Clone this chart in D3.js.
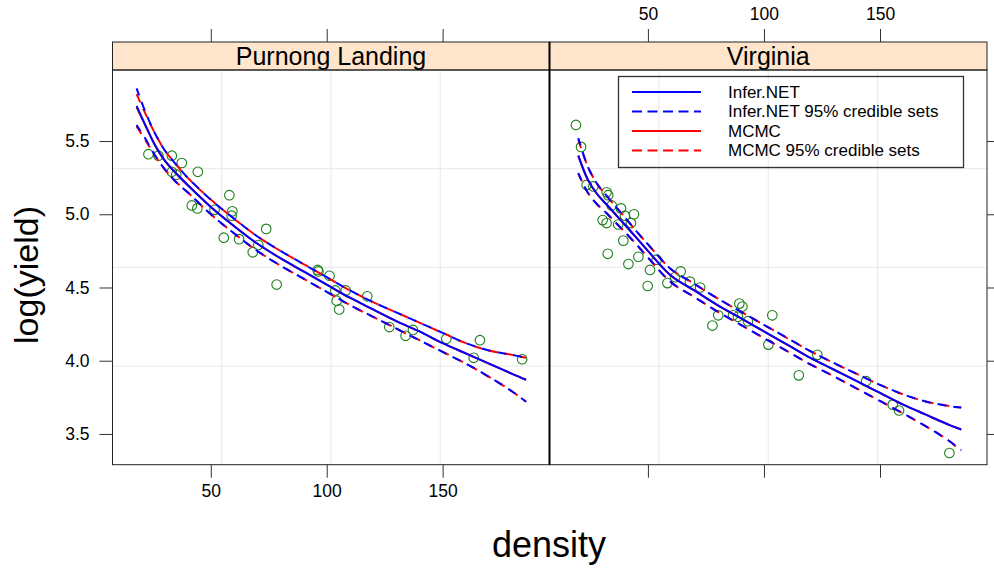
<!DOCTYPE html>
<html>
<head>
<meta charset="utf-8">
<script src="https://cdn.jsdelivr.net/npm/d3@7"></script>
<style>
  body { margin: 0; background: #fff; }
  svg text { font-family: "Liberation Sans", Arial, sans-serif; fill: #000; }
</style>
</head>
<body>
<div id="chart"></div>
<script>
// ---- data ----
var sites = ['Purnong Landing', 'Virginia'];
var xTicks = [50, 100, 150];
var yTicks = [3.5, 4.0, 4.5, 5.0, 5.5];
var legendLabels = ['Infer.NET', 'Infer.NET 95% credible sets', 'MCMC', 'MCMC 95% credible sets'];

var pnDensity = [23.1, 27.4, 33.2, 37.5, 33.2, 35.1, 44.4, 58.0, 41.8, 44.2, 51.6, 59.3, 59.0, 73.9, 55.6, 62.2, 70.5, 68.1, 78.4, 96.1, 96.4, 101.2, 103.7, 108.2, 104.3, 105.4, 117.5, 127.0, 134.0, 137.2, 151.6, 166.1, 163.4, 184.3];
var pnYield = [5.41, 5.40, 5.40, 5.35, 5.29, 5.27, 5.29, 5.13, 5.06, 5.04, 5.03, 5.02, 4.99, 4.90, 4.84, 4.83, 4.79, 4.74, 4.52, 4.62, 4.61, 4.58, 4.48, 4.48, 4.41, 4.35, 4.44, 4.23, 4.17, 4.21, 4.15, 4.14, 4.02, 4.01];

var vaDensity = [19.0, 21.2, 23.6, 26.5, 32.2, 32.9, 34.4, 38.4, 44.0, 40.1, 30.5, 32.2, 42.7, 37.2, 39.4, 45.9, 32.7, 41.6, 50.9, 53.8, 49.9, 58.4, 61.7, 64.1, 68.1, 72.5, 80.3, 77.8, 89.4, 90.7, 86.7, 88.8, 93.1, 103.6, 101.9, 115.0, 123.0, 144.0, 155.5, 158.2, 179.9];
var vaYield = [5.61, 5.46, 5.20, 5.19, 5.15, 5.13, 5.06, 5.04, 5.00, 4.99, 4.96, 4.94, 4.94, 4.93, 4.82, 4.71, 4.73, 4.66, 4.62, 4.69, 4.51, 4.53, 4.57, 4.61, 4.54, 4.50, 4.31, 4.24, 4.39, 4.37, 4.31, 4.30, 4.27, 4.31, 4.11, 3.90, 4.04, 3.86, 3.70, 3.66, 3.37];

// fitted curves (Purnong Landing)
var pnGrid = [18, 22, 26, 30, 35, 40, 50, 60, 70, 80, 90, 100, 110, 120, 130, 140, 150, 160, 170, 180, 186];
var pnInferFit = [5.74, 5.60, 5.47, 5.37, 5.28, 5.20, 5.05, 4.92, 4.80, 4.70, 4.61, 4.52, 4.43, 4.35, 4.27, 4.20, 4.12, 4.05, 3.98, 3.91, 3.87];
var pnInferUpper = [5.86, 5.69, 5.55, 5.44, 5.34, 5.25, 5.10, 4.97, 4.85, 4.75, 4.66, 4.57, 4.48, 4.40, 4.33, 4.26, 4.19, 4.12, 4.07, 4.04, 4.02];
var pnInferLower = [5.61, 5.51, 5.40, 5.31, 5.22, 5.15, 5.00, 4.87, 4.75, 4.65, 4.56, 4.47, 4.38, 4.30, 4.22, 4.14, 4.06, 3.98, 3.89, 3.79, 3.72];
var pnMcmcFit = [5.73, 5.60, 5.47, 5.37, 5.28, 5.20, 5.05, 4.92, 4.80, 4.70, 4.61, 4.52, 4.43, 4.35, 4.27, 4.20, 4.12, 4.05, 3.98, 3.91, 3.87];
var pnMcmcUpper = [5.82, 5.68, 5.55, 5.44, 5.34, 5.25, 5.10, 4.97, 4.85, 4.75, 4.66, 4.57, 4.48, 4.40, 4.33, 4.26, 4.19, 4.12, 4.07, 4.04, 4.02];
var pnMcmcLower = [5.60, 5.50, 5.40, 5.31, 5.22, 5.15, 5.00, 4.87, 4.75, 4.65, 4.56, 4.47, 4.38, 4.30, 4.22, 4.14, 4.06, 3.98, 3.89, 3.79, 3.72];

// fitted curves (Virginia)
var vaGrid = [20, 24, 28, 32, 36, 40, 45, 50, 60, 70, 80, 90, 100, 110, 120, 130, 140, 150, 160, 170, 180, 185];
var vaInferFit = [5.40, 5.24, 5.14, 5.07, 5.00, 4.93, 4.84, 4.75, 4.58, 4.48, 4.38, 4.29, 4.20, 4.11, 4.02, 3.94, 3.86, 3.78, 3.70, 3.63, 3.56, 3.53];
var vaInferUpper = [5.52, 5.33, 5.21, 5.13, 5.055, 4.98, 4.885, 4.795, 4.625, 4.525, 4.425, 4.335, 4.245, 4.155, 4.065, 3.985, 3.91, 3.835, 3.77, 3.72, 3.69, 3.68];
var vaInferLower = [5.28, 5.15, 5.07, 5.01, 4.945, 4.88, 4.795, 4.705, 4.535, 4.435, 4.335, 4.245, 4.155, 4.065, 3.975, 3.895, 3.81, 3.725, 3.64, 3.55, 3.45, 3.39];
var vaMcmcFit = [5.40, 5.24, 5.14, 5.07, 5.00, 4.93, 4.84, 4.75, 4.58, 4.48, 4.38, 4.29, 4.20, 4.11, 4.02, 3.94, 3.86, 3.78, 3.70, 3.63, 3.56, 3.53];
var vaMcmcUpper = [5.51, 5.33, 5.21, 5.13, 5.055, 4.98, 4.885, 4.795, 4.625, 4.525, 4.425, 4.335, 4.245, 4.155, 4.065, 3.985, 3.91, 3.835, 3.77, 3.72, 3.69, 3.68];
var vaMcmcLower = [5.28, 5.15, 5.07, 5.01, 4.945, 4.88, 4.795, 4.705, 4.535, 4.435, 4.335, 4.245, 4.155, 4.065, 3.975, 3.895, 3.81, 3.725, 3.64, 3.55, 3.45, 3.38];

// ---- chart ----
var width = 994, height = 572;
var panelTop = 70, panelBottom = 464.7, stripTop = 42;
var xDomain = [7.6, 196.1];
var yDomain = [3.29, 5.985];

var svg = d3.select('#chart').append('svg')
  .attr('width', width)
  .attr('height', height);

var y = d3.scaleLinear().domain(yDomain).range([panelBottom, panelTop]);

var panels = [
  { name: sites[0], x0: 112.5, x1: 549.5, density: pnDensity, yield: pnYield, grid: pnGrid,
    curves: [pnMcmcFit, pnMcmcUpper, pnMcmcLower, pnInferFit, pnInferUpper, pnInferLower] },
  { name: sites[1], x0: 549.5, x1: 987, density: vaDensity, yield: vaYield, grid: vaGrid,
    curves: [vaMcmcFit, vaMcmcUpper, vaMcmcLower, vaInferFit, vaInferUpper, vaInferLower] }
];
// colour / dash of each curve
var curveStyle = [
  { c: '#ff0000', dash: null, off: 0 }, { c: '#ff0000', dash: '9,7', off: 0 }, { c: '#ff0000', dash: '9,7', off: 0 },
  { c: '#0000ff', dash: null, off: 0 }, { c: '#0000ff', dash: '9,7', off: 1.5 }, { c: '#0000ff', dash: '9,7', off: 1.5 }
];

panels.forEach(function (p, i) {
  var x = d3.scaleLinear().domain(xDomain).range([p.x0, p.x1]);
  var g = svg.append('g');

  // grid (lattice panel.grid: 3 equally spaced lines)
  var gx = [1, 2, 3].map(function (k) { return xDomain[0] + k * (xDomain[1] - xDomain[0]) / 4; });
  var gy = [1, 2, 3].map(function (k) { return yDomain[0] + k * (yDomain[1] - yDomain[0]) / 4; });
  g.selectAll('line.gx').data(gx).enter().append('line')
    .attr('class', 'gx')
    .attr('x1', function (d) { return x(d); })
    .attr('x2', function (d) { return x(d); })
    .attr('y1', panelTop).attr('y2', panelBottom)
    .attr('stroke', '#e8e8e8').attr('stroke-width', 1);
  g.selectAll('line.gy').data(gy).enter().append('line')
    .attr('class', 'gy')
    .attr('y1', function (d) { return y(d); })
    .attr('y2', function (d) { return y(d); })
    .attr('x1', p.x0).attr('x2', p.x1)
    .attr('stroke', '#e8e8e8').attr('stroke-width', 1);

  // points
  g.selectAll('circle').data(p.density).enter().append('circle')
    .attr('cx', function (d) { return x(d); })
    .attr('cy', function (d, j) { return y(p.yield[j]); })
    .attr('r', 4.8)
    .attr('fill', 'none')
    .attr('stroke', '#1e7f1e')
    .attr('stroke-width', 1.1);

  // fitted lines
  p.curves.forEach(function (vals, k) {
    var line = d3.line()
      .x(function (d) { return x(d); })
      .y(function (d, j) { return y(vals[j]); })
      .curve(d3.curveCatmullRom);
    g.append('path')
      .attr('d', line(p.grid))
      .attr('fill', 'none')
      .attr('stroke', curveStyle[k].c)
      .attr('stroke-width', 2)
      .attr('stroke-dasharray', curveStyle[k].dash)
      .attr('stroke-dashoffset', curveStyle[k].off);
  });

  // strip
  svg.append('rect')
    .attr('x', p.x0).attr('y', stripTop)
    .attr('width', p.x1 - p.x0).attr('height', panelTop - stripTop)
    .attr('fill', '#ffe5cc').attr('stroke', '#222').attr('stroke-width', 1);
  svg.append('text')
    .attr('x', (p.x0 + p.x1) / 2).attr('y', 65)
    .attr('text-anchor', 'middle')
    .style('font-size', '25px')
    .text(p.name);

  // panel border
  svg.append('rect')
    .attr('x', p.x0).attr('y', panelTop)
    .attr('width', p.x1 - p.x0).attr('height', panelBottom - panelTop)
    .attr('fill', 'none').attr('stroke', '#222').attr('stroke-width', 1);

  // axes: labels bottom on left panel, top on right panel
  var bAxis = d3.axisBottom(x).tickValues(xTicks).tickSize(13).tickPadding(7).tickSizeOuter(0);
  var tAxis = d3.axisTop(x).tickValues(xTicks).tickSize(13).tickPadding(9).tickSizeOuter(0);
  if (i === 1) bAxis.tickFormat('');
  if (i === 0) tAxis.tickFormat('');
  var ab = svg.append('g').attr('transform', 'translate(0,' + panelBottom + ')').call(bAxis);
  var at = svg.append('g').attr('transform', 'translate(0,' + stripTop + ')').call(tAxis);
  [ab, at].forEach(function (a) {
    a.select('.domain').remove();
    a.selectAll('line').attr('stroke', '#333');
    a.selectAll('text').style('font-size', '17.5px');
  });
});

// middle divider
svg.append('line')
  .attr('x1', 549.5).attr('x2', 549.5).attr('y1', stripTop).attr('y2', panelBottom)
  .attr('stroke', '#000').attr('stroke-width', 2);

// y axes
var al = svg.append('g').attr('transform', 'translate(112.5,0)')
  .call(d3.axisLeft(y).tickValues(yTicks).tickSize(13).tickPadding(10).tickSizeOuter(0).tickFormat(d3.format('.1f')));
var ar = svg.append('g').attr('transform', 'translate(987,0)')
  .call(d3.axisRight(y).tickValues(yTicks).tickSize(13).tickSizeOuter(0).tickFormat(''));
[al, ar].forEach(function (a) {
  a.select('.domain').remove();
  a.selectAll('line').attr('stroke', '#333');
  a.selectAll('text').style('font-size', '17.5px');
});

// titles
svg.append('text')
  .attr('x', 549).attr('y', 557)
  .attr('text-anchor', 'middle')
  .style('font-size', '36px')
  .text('density');
svg.append('text')
  .attr('transform', 'translate(38,275) rotate(-90)')
  .attr('text-anchor', 'middle')
  .style('font-size', '34px')
  .text('log(yield)');

// legend
var leg = svg.append('g');
leg.append('rect')
  .attr('x', 618.5).attr('y', 76.5).attr('width', 345).attr('height', 91)
  .attr('fill', 'none').attr('stroke', '#333').attr('stroke-width', 1.3);
var legStyle = [curveStyle[3], curveStyle[4], curveStyle[0], curveStyle[1]];
leg.selectAll('line').data(legendLabels).enter().append('line')
  .attr('x1', 632).attr('x2', 701)
  .attr('y1', function (d, i) { return 92 + i * 19.5; })
  .attr('y2', function (d, i) { return 92 + i * 19.5; })
  .attr('stroke', function (d, i) { return legStyle[i].c; })
  .attr('stroke-width', 2)
  .attr('stroke-dasharray', function (d, i) { return legStyle[i].dash ? '10,5.5' : null; });
leg.selectAll('text').data(legendLabels).enter().append('text')
  .attr('x', 728)
  .attr('y', function (d, i) { return 92 + i * 19.5; })
  .attr('dy', '0.35em')
  .style('font-size', '17px')
  .text(function (d) { return d; });
</script>
</body>
</html>
